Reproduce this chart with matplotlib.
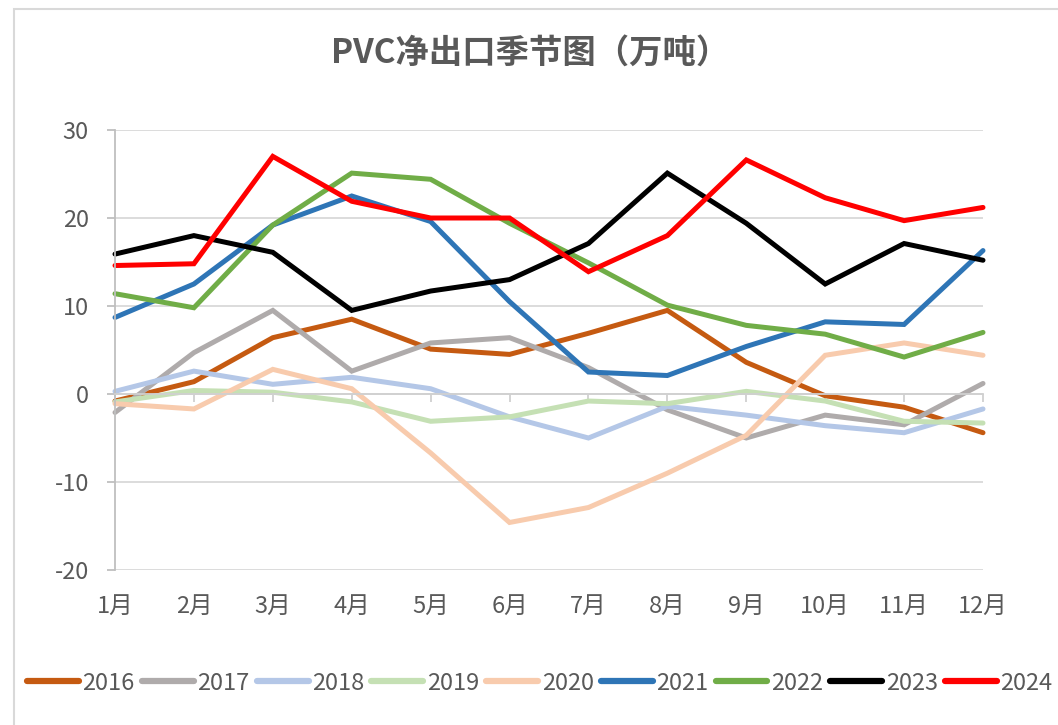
import matplotlib
matplotlib.use('Agg')
import matplotlib.pyplot as plt
from matplotlib.patches import Rectangle

plt.rcParams['font.family'] = ['Noto Sans CJK SC', 'DejaVu Sans']
plt.rcParams['axes.unicode_minus'] = False

months = ['1月', '2月', '3月', '4月', '5月', '6月', '7月', '8月', '9月', '10月', '11月', '12月']
years = ['2016', '2017', '2018', '2019', '2020', '2021', '2022', '2023', '2024']

y2016 = [-0.8, 1.4, 6.4, 8.5, 5.1, 4.5, 6.9, 9.5, 3.6, -0.2, -1.5, -4.4]
y2017 = [-2.1, 4.7, 9.5, 2.6, 5.8, 6.4, 3.0, -1.8, -5.0, -2.4, -3.5, 1.2]
y2018 = [0.3, 2.6, 1.1, 1.9, 0.6, -2.6, -5.0, -1.4, -2.4, -3.6, -4.4, -1.7]
y2019 = [-0.9, 0.4, 0.2, -0.9, -3.1, -2.6, -0.8, -1.1, 0.3, -0.8, -3.1, -3.3]
y2020 = [-1.1, -1.7, 2.8, 0.6, -6.7, -14.6, -12.9, -9.0, -4.7, 4.4, 5.8, 4.4]
y2021 = [8.7, 12.5, 19.2, 22.5, 19.6, 10.5, 2.5, 2.1, 5.4, 8.2, 7.9, 16.3]
y2022 = [11.4, 9.8, 19.2, 25.1, 24.4, 19.4, 14.9, 10.1, 7.8, 6.8, 4.2, 7.0]
y2023 = [15.9, 18.0, 16.1, 9.5, 11.7, 13.0, 17.1, 25.1, 19.4, 12.5, 17.1, 15.2]
y2024 = [14.6, 14.8, 27.0, 21.9, 20.0, 20.0, 13.9, 18.0, 26.6, 22.3, 19.7, 21.2]

series = [y2016, y2017, y2018, y2019, y2020, y2021, y2022, y2023, y2024]
colors = ['#C55A11', '#AFABAB', '#B4C7E7', '#C5E0B4', '#F8CBAD',
          '#2E75B6', '#70AD47', '#000000', '#FF0000']

W, H = 1058, 725
fig = plt.figure(figsize=(W / 100, H / 100), dpi=100)
ax = fig.add_axes([115 / W, 1 - 570 / H, (983 - 115) / W, (570 - 130) / H])

x = list(range(len(months)))
for vals, c, lab in zip(series, colors, years):
    ax.plot(x, vals, color=c, lw=3.6, label=lab, solid_capstyle='round',
            solid_joinstyle='miter', clip_on=False)

ax.set_xlim(0, 11)
ax.set_ylim(-20, 30)
ax.set_yticks(range(-20, 31, 10))
ax.grid(axis='y', color='#d9d9d9', lw=1.3)
ax.set_axisbelow(True)

for s in ['top', 'right']:
    ax.spines[s].set_visible(False)
ax.spines['left'].set_color('#bfbfbf')
ax.spines['left'].set_linewidth(1.3)
ax.spines['bottom'].set_position(('data', 0))
ax.spines['bottom'].set_color('#d0d0d0')
ax.spines['bottom'].set_linewidth(1.3)

ax.set_xticks(x)
ax.tick_params(axis='x', direction='out', length=5.8, width=1.3, color='#d0d0d0',
               labelbottom=False)
ax.tick_params(axis='y', direction='out', length=5.8, width=1.3, color='#bfbfbf',
               labelsize=17, labelcolor='#595959', pad=13)

sec = ax.secondary_xaxis('bottom')
sec.set_xticks(x, labels=months)
sec.tick_params(length=0, pad=18, labelsize=17, labelcolor='#595959')
sec.spines['bottom'].set_visible(False)

fig.text(530 / W, 1 - 53 / H, 'PVC净出口季节图（万吨）', ha='center', va='center',
         fontsize=24, fontweight='bold', color='#595959')

# legend runs off the right edge, as in the original
leg = fig.legend(loc='center left', bbox_to_anchor=(27 / W, 1 - 683 / H),
                 bbox_transform=fig.transFigure, ncol=9, frameon=False,
                 fontsize=17, handlelength=2.2, handletextpad=0.15,
                 columnspacing=0.3, borderaxespad=0, borderpad=0)
for t in leg.get_texts():
    t.set_color('#595959')
for h in leg.get_lines():
    h.set_linewidth(4.5)

fig.add_artist(Rectangle((14 / W, -0.2), 2, 1 - 9 / H + 0.2, transform=fig.transFigure,
                         fill=False, edgecolor='#d9d9d9', lw=1.5))

fig.savefig('out.png', dpi=100)
